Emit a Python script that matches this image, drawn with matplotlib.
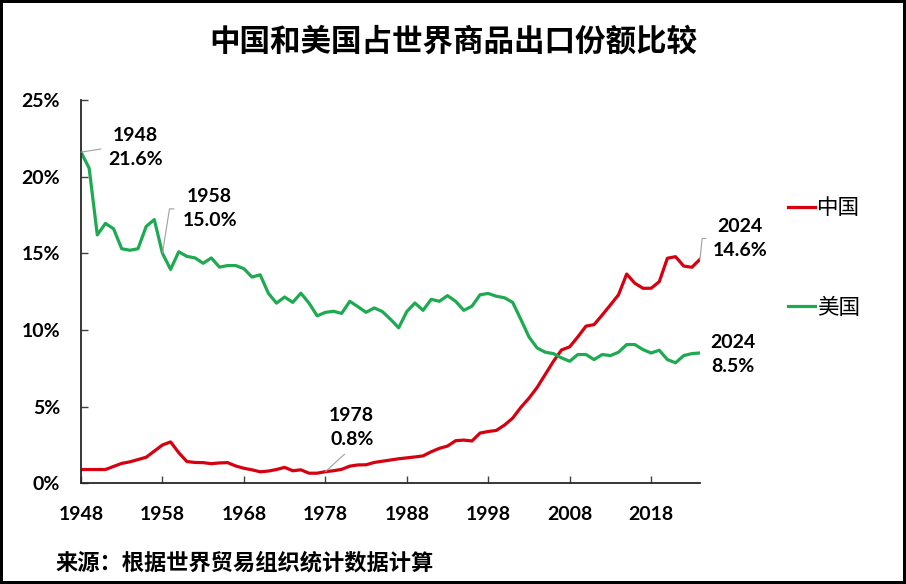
import numpy as np
import matplotlib
matplotlib.use("Agg")
import matplotlib.pyplot as plt

# share of world merchandise exports, %
years = np.arange(1948, 2025)
china = [0.90, 0.90, 0.90, 0.90, 1.10, 1.30, 1.40, 1.55, 1.70, 2.10,
         2.50, 2.70, 2.00, 1.42, 1.36, 1.35, 1.28, 1.33, 1.35, 1.13,
         0.98, 0.88, 0.75, 0.80, 0.90, 1.04, 0.82, 0.88, 0.66, 0.66,
         0.76, 0.82, 0.91, 1.12, 1.20, 1.21, 1.36, 1.44, 1.52, 1.60,
         1.66, 1.72, 1.79, 2.06, 2.28, 2.43, 2.78, 2.82, 2.76, 3.28,
         3.38, 3.45, 3.80, 4.25, 4.95, 5.55, 6.25, 7.10, 7.95, 8.70,
         8.90, 9.55, 10.25, 10.35, 10.98, 11.63, 12.30, 13.65, 13.05, 12.72,
         12.72, 13.15, 14.68, 14.78, 14.17, 14.09, 14.61]
usa = [21.60, 20.55, 16.20, 16.95, 16.60, 15.30, 15.20, 15.30, 16.75, 17.20,
       15.00, 13.95, 15.10, 14.80, 14.70, 14.35, 14.70, 14.10, 14.20, 14.20,
       14.00, 13.45, 13.60, 12.40, 11.75, 12.15, 11.80, 12.40, 11.75, 10.92,
       11.15, 11.22, 11.08, 11.87, 11.52, 11.15, 11.44, 11.20, 10.70, 10.14,
       11.20, 11.76, 11.28, 12.00, 11.87, 12.24, 11.87, 11.28, 11.55, 12.30,
       12.38, 12.20, 12.10, 11.80, 10.70, 9.55, 8.83, 8.55, 8.46, 8.18,
       7.96, 8.40, 8.40, 8.07, 8.40, 8.33, 8.55, 9.05, 9.05, 8.72,
       8.50, 8.68, 8.07, 7.86, 8.33, 8.46, 8.50]
xtick_years = [1948, 1958, 1968, 1978, 1988, 1998, 2008, 2018]
ytick_vals = [0, 5, 10, 15, 20, 25]

RED = '#D7000F'
GREEN = '#1DAA50'
CJK = ['Noto Sans CJK SC', 'DejaVu Sans']

plt.rcParams['font.family'] = ['Lato', 'Noto Sans CJK SC', 'DejaVu Sans']

fig = plt.figure(figsize=(9.06, 5.84), dpi=100, facecolor='white',
                 edgecolor='black', linewidth=3)
ax = fig.add_axes([0.0894, 0.1724, 0.6832, 0.6564])

ax.plot(years, china, color=RED, lw=2.3, label='中国')
ax.plot(years, usa, color=GREEN, lw=2.3, label='美国')

ax.set_xlim(1948, 2024)
ax.set_ylim(0, 25)
ax.set_xticks(xtick_years)
ax.set_yticks(ytick_vals)
ax.set_yticklabels([f'{v}%' for v in ytick_vals])
for lab in ax.get_xticklabels() + ax.get_yticklabels():
    lab.set_fontweight('bold')
    lab.set_fontsize(14)
ax.tick_params(axis='x', direction='in', length=5, width=1, pad=16, color='#404040')
ax.tick_params(axis='y', direction='in', length=5, width=1, pad=15, color='#404040')
for side in ['top', 'right']:
    ax.spines[side].set_visible(False)
for side in ['left', 'bottom']:
    ax.spines[side].set_color('#262626')
    ax.spines[side].set_linewidth(1.3)

# data labels
lead = dict(arrowstyle='-', color='#A0A0A0', lw=0.8, shrinkB=0)
lbl = dict(textcoords='offset points', ha='center', va='center',
           fontsize=14, fontweight='bold', linespacing=1.5)
i = list(years).index
ax.annotate(f'1948\n{usa[i(1948)]:.1f}%', (1948, usa[i(1948)]), xytext=(39, 3),
            arrowprops=dict(lead, relpos=(0, 0.5), shrinkA=3), **lbl)
ax.annotate(f'1958\n{usa[i(1958)]:.1f}%', (1958, usa[i(1958)]), xytext=(34, 32),
            arrowprops=dict(lead, relpos=(0, 0.5), shrinkA=4,
                            connectionstyle='angle,angleA=0,angleB=81,rad=0'), **lbl)
ax.annotate(f'1978\n{china[i(1978)]:.1f}%', (1978, china[i(1978)]), xytext=(19, 32),
            arrowprops=dict(lead, relpos=(0.5, 0), shrinkA=4), **lbl)
ax.annotate(f'2024\n{china[i(2024)]:.1f}%', (2024, china[i(2024)]), xytext=(29, 15),
            arrowprops=dict(lead, relpos=(0, 0.5), shrinkA=3,
                            connectionstyle='angle,angleA=0,angleB=84,rad=0'),
            annotation_clip=False, **lbl)
ax.annotate(f'2024\n{usa[i(2024)]:.1f}%', (2024, usa[i(2024)]), xytext=(24, -1),
            annotation_clip=False, **lbl)

fig.legend(loc='center left', bbox_to_anchor=(788 / 906, 1 - 258 / 584),
           frameon=False, borderpad=0, borderaxespad=0, handlelength=1.25,
           handletextpad=0.1, labelspacing=3.6,
           prop={'family': CJK, 'size': 15.5})

fig.text(0.5, 1 - 42 / 584, '中国和美国占世界商品出口份额比较', ha='center', va='center',
         fontsize=22, fontweight='bold', family=CJK)
fig.text(55 / 906, 1 - 563 / 584, '来源：根据世界贸易组织统计数据计算', ha='left', va='center',
         fontsize=16, fontweight='bold', family=CJK)

fig.savefig('out.png', dpi=100)
